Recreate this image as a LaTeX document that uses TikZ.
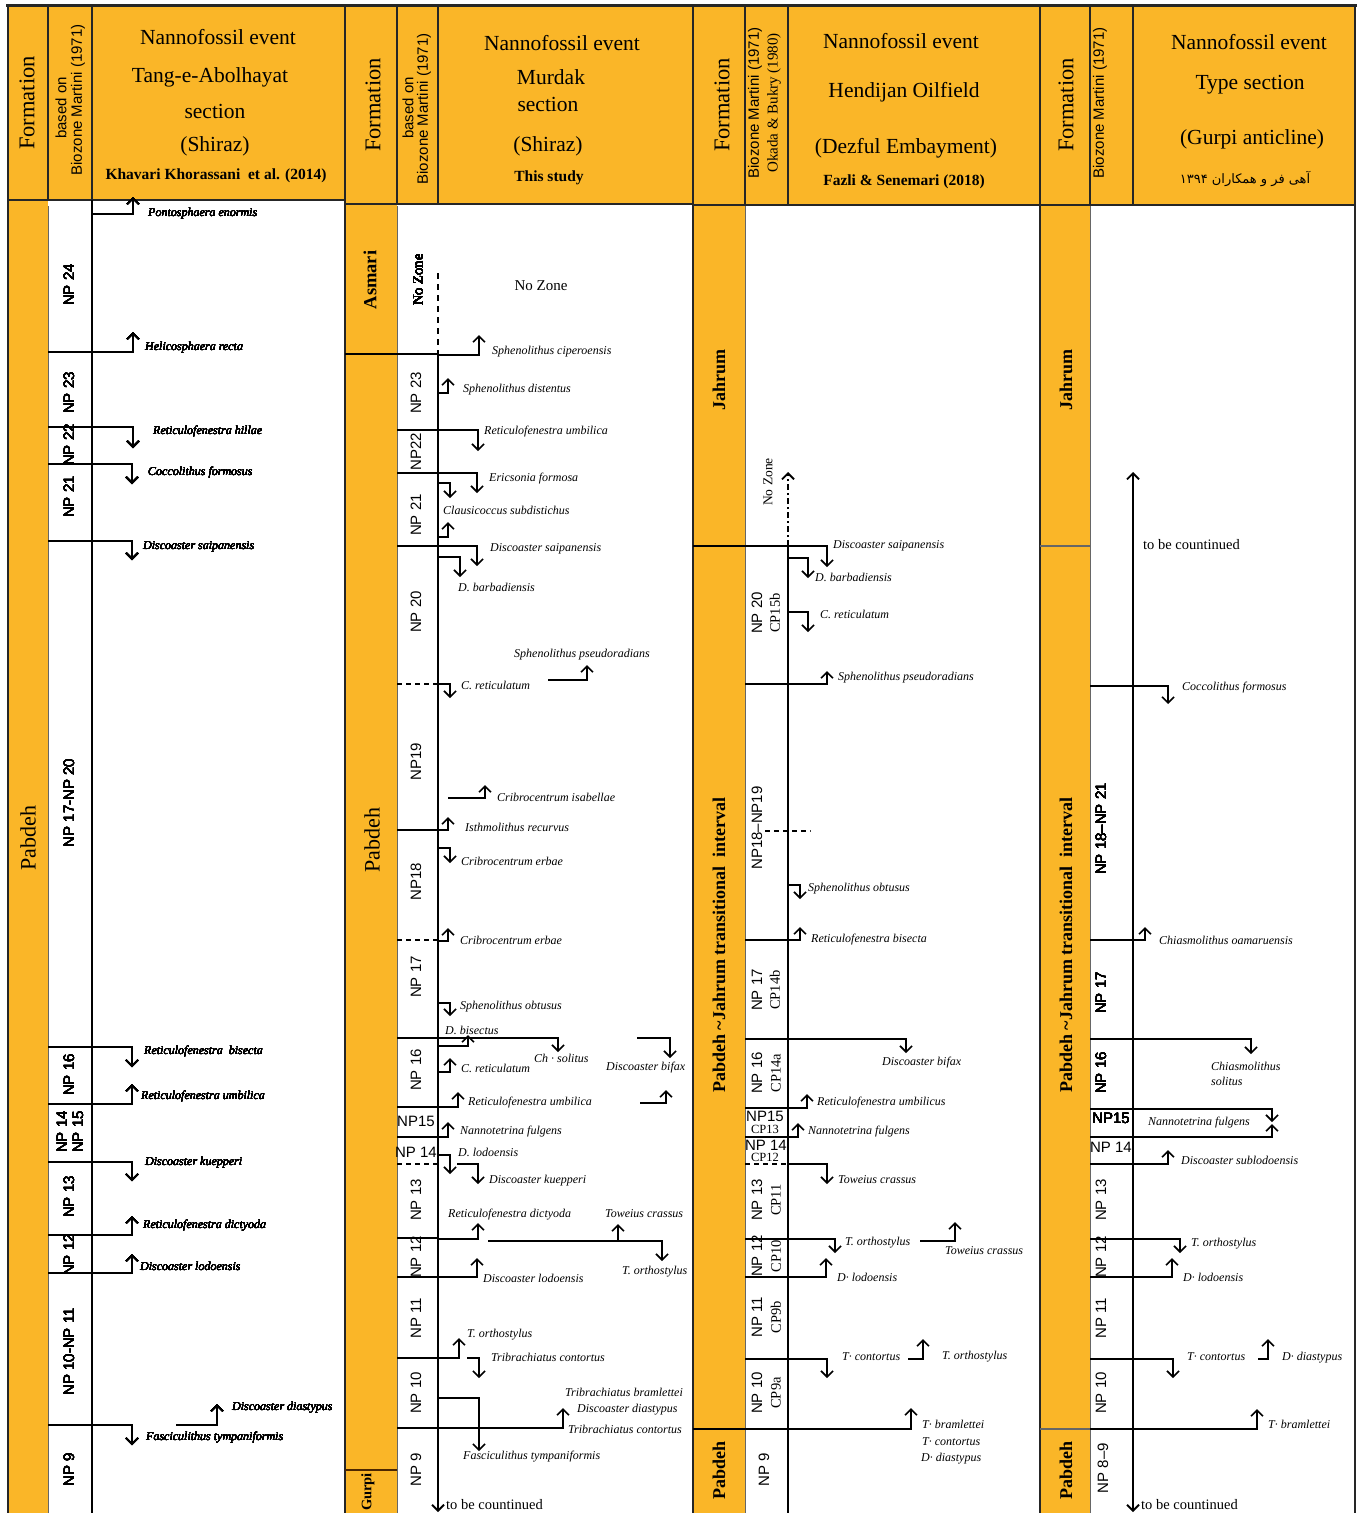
\documentclass[tikz,border=0pt]{standalone}
\usepackage{fontspec}
\setmainfont{Liberation Serif}
\setsansfont{Liberation Sans}
\newfontfamily\arabicfont[Script=Arabic]{DejaVu Sans}
\TeXXeTstate=1
\usetikzlibrary{arrows.meta}
\definecolor{orng}{RGB}{250,182,40}
\newcounter{lab}
\newcommand\splab[3]{\stepcounter{lab}\node[sp] (s\arabic{lab}) at (#1,#2) {#3};}
\newcommand\zl[3]{\stepcounter{lab}\node[zone] (z\arabic{lab}) at (#1,#2) {#3};}
\newcommand\cpl[3]{\stepcounter{lab}\node[cp] (c\arabic{lab}) at (#1,#2) {#3};}
\newcommand\evt[4]{\draw[ev] (#1,#2) -- (#3,#2) -- (#3,#4);}
\newcommand\bdl[3]{\draw[bd] (#1,#3) -- (#2,#3);}
\newcommand\bdd[3]{\draw[bdash] (#1,#3) -- (#2,#3);}
\tikzset{
 frame/.style={line width=2pt, black!85},
 thinl/.style={line width=0.8pt, black!60},
 bd/.style={line width=1.6pt, black},
 bdash/.style={line width=1.6pt, black, dash pattern=on 5pt off 4pt},
 mainl/.style={line width=1.8pt, black},
 ev/.style={line width=1.6pt, black, -{Straight Barb[length=6pt,width=12pt]}},
 sp/.style={anchor=west, inner sep=0pt, font=\fontsize{12}{13}\selectfont\itshape},
 zone/.style={rotate=90, inner sep=0pt, font=\sffamily\fontsize{15}{15}\selectfont},
 zoneh/.style={inner sep=0pt, font=\sffamily\fontsize{15}{15}\selectfont},
 cp/.style={rotate=90, inner sep=0pt, font=\fontsize{14.5}{14.5}\selectfont},
 cph/.style={inner sep=0pt, font=\fontsize{12.5}{12.5}\selectfont},
 hd/.style={inner sep=0pt, font=\fontsize{21.5}{21.5}\selectfont},
 cite/.style={inner sep=0pt, font=\bfseries\fontsize{15.5}{15.5}\selectfont},
 fmh/.style={rotate=90, inner sep=0pt, font=\fontsize{22.5}{22.5}\selectfont},
 bz/.style={rotate=90, inner sep=0pt, font=\sffamily\fontsize{15}{15}\selectfont},
 bzs/.style={rotate=90, inner sep=0pt, font=\fontsize{15}{15}\selectfont},
 fm/.style={rotate=90, inner sep=0pt, font=\fontsize{22}{22}\selectfont},
 fmb/.style={rotate=90, inner sep=0pt, font=\bfseries\fontsize{18}{18}\selectfont},
 txt/.style={inner sep=0pt, font=\fontsize{14.5}{15}\selectfont},
}
\begin{document}
\begin{tikzpicture}[x=1pt,y=-1pt]
\useasboundingbox (0,0) rectangle (1361,1513);
\fill[white] (0,0) rectangle (1361,1513);
% ---------- backgrounds
\fill[orng] (8,5) rectangle (345,200);
\fill[orng] (345,5) rectangle (693,204);
\fill[orng] (693,5) rectangle (1040,205);
\fill[orng] (1040,5) rectangle (1355,205);
\fill[orng] (8,200) rectangle (48,1513);
\fill[orng] (345,204) rectangle (397,1513);
\fill[orng] (693,205) rectangle (745,1513);
\fill[orng] (1040,205) rectangle (1090,1513);
% ---------- frame lines
\draw[frame, line width=3pt] (6,5) -- (1357,5);
\foreach \xx in {8,345,693,1040,1355} \draw[frame] (\xx,5) -- (\xx,1513);
\draw[frame, line width=2.5pt] (8,200) -- (345,200);
\draw[frame, line width=2.5pt] (345,204) -- (693,204);
\draw[frame, line width=2.5pt] (693,205) -- (1355,205);
\foreach \xx in {48,92} \draw[frame] (\xx,5) -- (\xx,200);
\foreach \xx in {397,438} \draw[frame] (\xx,5) -- (\xx,204);
\foreach \xx in {745,788,1090,1133} \draw[frame] (\xx,5) -- (\xx,205);
\foreach \xx in {48,397,745,1090} \draw[thinl] (\xx,206) -- (\xx,1513);
% ---------- headers
\node[fmh] (h1f) at (27,103) {Formation};
\node[bz] (h1a) at (61,108) {based on};
\node[bz] (h1b) at (78,100) {Biozone Martini (1971)};
\node[hd] (h1c) at (218,37) {Nannofossil event};
\node[hd] (h1d) at (210,77) {Tang-e-Abolhayat};
\node[hd] (h1e) at (215,111) {section};
\node[hd] (h1g) at (215,146) {(Shiraz)};
\node[cite] (h1h) at (216,176) {Khavari Khorassani\ \ et al. (2014)};
\node[fmh] (h2f) at (373,105) {Formation};
\node[bz] (h2a) at (408,108) {based on};
\node[bz] (h2b) at (424,109) {Biozone Martini (1971)};
\node[hd] (h2c) at (562,43) {Nannofossil event};
\node[hd] (h2d) at (551,77) {Murdak};
\node[hd] (h2e) at (548,104) {section};
\node[hd] (h2g) at (548,146) {(Shiraz)};
\node[cite] (h2h) at (549,178) {This study};
\node[fmh] (h3f) at (722,105) {Formation};
\node[bz] (h3a) at (755,103) {Biozone Martini (1971)};
\node[bzs] (h3b) at (774,103) {Okada \& Bukry (1980)};
\node[hd] (h3c) at (901,41) {Nannofossil event};
\node[hd] (h3d) at (904,92) {Hendijan Oilfield};
\node[hd] (h3e) at (906,148) {(Dezful Embayment)};
\node[cite] (h3h) at (904,182) {Fazli \& Senemari (2018)};
\node[fmh] (h4f) at (1066,105) {Formation};
\node[bz] (h4a) at (1100,103) {Biozone Martini (1971)};
\node[hd] (h4c) at (1249,42) {Nannofossil event};
\node[hd] (h4d) at (1250,85) {Type section};
\node[hd] (h4e) at (1252,139) {(Gurpi anticline)};
\node[inner sep=0pt] (h4h) at (1245,179) {\arabicfont\fontsize{13}{13}\selectfont\beginR آهی فر و همکاران \beginL۱۳۹۴\endL\endR};
% ---------- formation labels
\node[fm] (f1) at (28,838) {Pabdeh};
\draw[thinl] (345,354) -- (397,354);
\node[fmb, font=\bfseries\fontsize{18.5}{18.5}\selectfont] (f2a) at (370,280) {Asmari};
\node[fm] (f2b) at (372,840) {Pabdeh};
\draw[line width=1.2pt, black!70!orange] (345,1470) -- (397,1470);
\node[fmb, font=\bfseries\fontsize{14.5}{14.5}\selectfont] (f2c) at (368,1492) {Gurpi};
\draw[bd] (693,546) -- (745,546);
\draw[bd] (693,1429) -- (745,1429);
\node[fmb] (f3a) at (719,380) {Jahrum};
\node[fmb] (f3b) at (719,945) {Pabdeh \textasciitilde Jahrum transitional\ \ interval};
\node[fmb] (f3c) at (719,1470) {Pabdeh};
\draw[thinl, line width=1.2pt] (1040,546) -- (1090,546);
\draw[thinl, line width=1.2pt] (1040,1429) -- (1090,1429);
\node[fmb] (f4a) at (1066,380) {Jahrum};
\node[fmb] (f4b) at (1066,945) {Pabdeh \textasciitilde Jahrum transitional\ \ interval};
\node[fmb] (f4c) at (1066,1470) {Pabdeh};
% ================= PANEL 1
\draw[mainl] (92,200) -- (92,1513);
\foreach \yy in {352,427,464,541,1047,1104,1162,1235,1273,1425} \bdl{48}{92}{\yy}
\zl{69}{285}{NP 24}
\zl{69}{393}{NP 23}
\zl{69}{445}{NP 22}
\zl{69}{497}{NP 21}
\zl{69}{803}{NP 17-NP 20}
\zl{69}{1075}{NP 16}
\zl{62}{1132}{NP 14}
\zl{78}{1132}{NP 15}
\zl{69}{1197}{NP 13}
\zl{69}{1255}{NP 12}
\zl{69}{1352}{NP 10-NP 11}
\zl{69}{1470}{NP 9}
\evt{92}{214}{133}{197}
\evt{92}{352}{133}{332}
\evt{92}{427}{133}{448}
\evt{92}{464}{132}{484}
\evt{92}{541}{132}{560}
\evt{92}{1047}{132}{1067}
\evt{92}{1104}{132}{1084}
\evt{92}{1162}{132}{1181}
\evt{92}{1235}{132}{1216}
\evt{92}{1273}{132}{1254}
\evt{176}{1425}{217}{1404}
\evt{92}{1425}{132}{1445}
\splab{148}{214}{Pontosphaera enormis}
\splab{145}{348}{Helicosphaera recta}
\splab{153}{432}{Reticulofenestra hillae}
\splab{148}{473}{Coccolithus formosus}
\splab{143}{547}{Discoaster saipanensis}
\splab{144}{1052}{Reticulofenestra\ \ bisecta}
\splab{141}{1097}{Reticulofenestra umbilica}
\splab{145}{1163}{Discoaster kuepperi}
\splab{143}{1226}{Reticulofenestra dictyoda}
\splab{140}{1266}{Discoaster lodoensis}
\splab{232}{1408}{Discoaster diastypus}
\splab{146}{1438}{Fasciculithus tympaniformis}
% ================= PANEL 2
\draw[mainl, dash pattern=on 6pt off 5pt] (438,273) -- (438,354);
\draw[mainl, -{Straight Barb[length=6pt,width=12pt]}] (438,354) -- (438,1512);
\bdl{345}{438}{354}
\foreach \yy in {430,473,546,830,1038,1107,1137,1238,1277,1358,1428} \bdl{397}{438}{\yy}
\foreach \yy in {684,940,1164} \bdd{397}{438}{\yy}
\node[cp] (nz2) at (418,280) {No Zone};
\node[txt, font=\fontsize{15}{15}\selectfont] (nz2b) at (541,286) {No Zone};
\zl{416}{393}{NP 23}
\zl{416}{452}{NP22}
\zl{416}{515}{NP 21}
\zl{416}{612}{NP 20}
\zl{416}{762}{NP19}
\zl{416}{882}{NP18}
\zl{416}{977}{NP 17}
\zl{416}{1070}{NP 16}
\node[zoneh] (p2np15) at (416,1121) {NP15};
\node[zoneh] (p2np14) at (416,1152) {NP 14};
\zl{416}{1200}{NP 13}
\zl{416}{1257}{NP 12}
\zl{416}{1318}{NP 11}
\zl{416}{1393}{NP 10}
\zl{416}{1470}{NP 9}
\evt{438}{355}{479}{335}
\evt{438}{393}{448}{378}
\evt{438}{430}{478}{451}
\evt{438}{473}{477}{493}
\evt{438}{483}{450}{498}
\evt{438}{537}{448}{522}
\evt{438}{546}{477}{566}
\evt{438}{557}{460}{577}
\evt{548}{680}{587}{665}
\evt{438}{684}{450}{698}
\evt{448}{798}{485}{785}
\evt{438}{830}{448}{817}
\evt{438}{848}{450}{863}
\evt{438}{941}{448}{928}
\evt{438}{1003}{450}{1016}
\evt{438}{1038}{558}{1052}
\evt{438}{1046}{468}{1035}
\evt{637}{1038}{670}{1058}
\evt{438}{1072}{450}{1058}
\evt{438}{1107}{458}{1092}
\evt{640}{1103}{666}{1090}
\evt{438}{1137}{448}{1122}
\evt{438}{1155}{450}{1174}
\evt{457}{1164}{478}{1184}
\evt{438}{1239}{478}{1223}
\draw[ev] (488,1241) -- (662,1241) -- (662,1261);
\draw[ev] (618,1241) -- (618,1224);
\evt{438}{1277}{477}{1258}
\evt{438}{1358}{459}{1338}
\evt{467}{1358}{479}{1378}
\evt{438}{1398}{479}{1451}
\evt{397}{1428}{563}{1408}
\splab{492}{352}{Sphenolithus ciperoensis}
\splab{463}{390}{Sphenolithus distentus}
\splab{484}{432}{Reticulofenestra umbilica}
\splab{489}{479}{Ericsonia formosa}
\splab{443}{510}{Clausicoccus subdistichus}
\splab{490}{549}{Discoaster saipanensis}
\splab{458}{587}{D. barbadiensis}
\splab{514}{655}{Sphenolithus pseudoradians}
\splab{461}{685}{C. reticulatum}
\splab{497}{797}{Cribrocentrum isabellae}
\splab{465}{827}{Isthmolithus recurvus}
\splab{461}{861}{Cribrocentrum erbae}
\splab{460}{940}{Cribrocentrum erbae}
\splab{460}{1007}{Sphenolithus obtusus}
\splab{445}{1030}{D. bisectus}
\splab{534}{1058}{Ch · solitus}
\splab{606}{1068}{Discoaster bifax}
\splab{461}{1068}{C. reticulatum}
\splab{468}{1103}{Reticulofenestra umbilica}
\splab{460}{1132}{Nannotetrina fulgens}
\splab{458}{1152}{D. lodoensis}
\splab{489}{1181}{Discoaster kuepperi}
\splab{448}{1215}{Reticulofenestra dictyoda}
\splab{605}{1214}{Toweius crassus}
\splab{622}{1272}{T. orthostylus}
\splab{483}{1278}{Discoaster lodoensis}
\splab{467}{1335}{T. orthostylus}
\splab{491}{1357}{Tribrachiatus contortus}
\splab{565}{1392}{Tribrachiatus bramlettei}
\splab{577}{1410}{Discoaster diastypus}
\splab{568}{1429}{Tribrachiatus contortus}
\splab{463}{1457}{Fasciculithus tympaniformis}
\node[txt, anchor=west] (tbc2) at (446,1505) {to be countinued};
% ================= PANEL 3
\draw[mainl, dash pattern=on 6pt off 3pt on 2pt off 3pt, -{Straight Barb[length=6pt,width=12pt]}] (788,546) -- (788,472);
\draw[mainl] (788,546) -- (788,1513);
\foreach \yy in {546,684,940,1039,1108,1137,1239,1277,1359,1429} \bdl{745}{788}{\yy}
\bdd{745}{788}{1164}
\draw[bdash] (765,831) -- (810,831);
\node[cp, font=\fontsize{13.5}{13.5}\selectfont] (nz3) at (768,482) {No Zone};
\zl{757}{613}{NP 20}
\cpl{775}{613}{CP15b}
\zl{757}{828}{NP18--NP19}
\zl{757}{990}{NP 17}
\cpl{775}{990}{CP14b}
\zl{757}{1073}{NP 16}
\cpl{776}{1073}{CP14a}
\node[zoneh] (p3np15) at (765,1116) {NP15};
\node[cph] (p3cp13) at (765,1129) {CP13};
\node[zoneh] (p3np14) at (766,1145) {NP 14};
\node[cph] (p3cp12) at (765,1157) {CP12};
\zl{757}{1200}{NP 13}
\cpl{776}{1200}{CP11}
\zl{757}{1256}{NP 12}
\cpl{776}{1256}{CP10}
\zl{757}{1317}{NP 11}
\cpl{776}{1317}{CP9b}
\zl{757}{1393}{NP 10}
\cpl{776}{1393}{CP9a}
\zl{764}{1470}{NP 9}
\evt{788}{546}{827}{567}
\evt{788}{558}{808}{578}
\evt{788}{612}{808}{632}
\evt{788}{684}{827}{671}
\evt{788}{885}{800}{899}
\evt{788}{940}{800}{927}
\evt{788}{1039}{906}{1053}
\evt{788}{1108}{807}{1094}
\evt{788}{1137}{798}{1123}
\evt{788}{1164}{827}{1184}
\evt{788}{1239}{835}{1253}
\evt{920}{1241}{955}{1222}
\evt{788}{1277}{826}{1258}
\evt{788}{1359}{827}{1378}
\evt{908}{1359}{923}{1339}
\evt{788}{1429}{911}{1408}
\splab{833}{546}{Discoaster saipanensis}
\splab{815}{577}{D. barbadiensis}
\splab{820}{614}{C. reticulatum}
\splab{838}{678}{Sphenolithus pseudoradians}
\splab{808}{889}{Sphenolithus obtusus}
\splab{811}{940}{Reticulofenestra bisecta}
\splab{882}{1063}{Discoaster bifax}
\splab{817}{1103}{Reticulofenestra umbilicus}
\splab{808}{1132}{Nannotetrina fulgens}
\splab{838}{1180}{Toweius crassus}
\splab{845}{1243}{T. orthostylus}
\splab{945}{1251}{Toweius crassus}
\splab{837}{1277}{D· lodoensis}
\splab{842}{1357}{T· contortus}
\splab{942}{1357}{T. orthostylus}
\splab{922}{1424}{T· bramlettei}
\splab{922}{1442}{T· contortus}
\splab{921}{1459}{D· diastypus}
% ================= PANEL 4
\draw[mainl, {Straight Barb[length=6pt,width=12pt]}-{Straight Barb[length=6pt,width=12pt]}] (1133,472) -- (1133,1512);
\foreach \yy in {686,940,1039,1109,1137,1164,1239,1277,1359,1429} \bdl{1090}{1133}{\yy}
\zl{1101}{829}{NP 18--NP 21}
\zl{1101}{993}{NP 17}
\zl{1101}{1073}{NP 16}
\node[zoneh] (p4np15) at (1111,1118) {NP15};
\node[zoneh] (p4np14) at (1111,1147) {NP 14};
\zl{1101}{1200}{NP 13}
\zl{1101}{1257}{NP 12}
\zl{1101}{1318}{NP 11}
\zl{1101}{1393}{NP 10}
\zl{1103}{1468}{NP 8--9}
\evt{1133}{686}{1168}{704}
\evt{1133}{940}{1145}{927}
\evt{1133}{1039}{1251}{1054}
\evt{1133}{1109}{1272}{1122}
\evt{1133}{1137}{1272}{1124}
\evt{1133}{1164}{1168}{1150}
\evt{1133}{1239}{1180}{1253}
\evt{1133}{1277}{1172}{1258}
\evt{1133}{1359}{1173}{1378}
\evt{1258}{1359}{1268}{1339}
\evt{1133}{1429}{1257}{1409}
\node[txt, anchor=west] (tbc4a) at (1143,545) {to be countinued};
\node[txt, anchor=west] (tbc4b) at (1141,1505) {to be countinued};
\splab{1182}{688}{Coccolithus formosus}
\splab{1159}{940}{Chiasmolithus oamaruensis}
\splab{1211}{1066}{Chiasmolithus}
\splab{1211}{1081}{solitus}
\splab{1148}{1123}{Nannotetrina fulgens}
\splab{1181}{1160}{Discoaster sublodoensis}
\splab{1191}{1244}{T. orthostylus}
\splab{1183}{1277}{D· lodoensis}
\splab{1187}{1357}{T· contortus}
\splab{1282}{1358}{D· diastypus}
\splab{1268}{1424}{T· bramlettei}
\end{tikzpicture}
\end{document}
